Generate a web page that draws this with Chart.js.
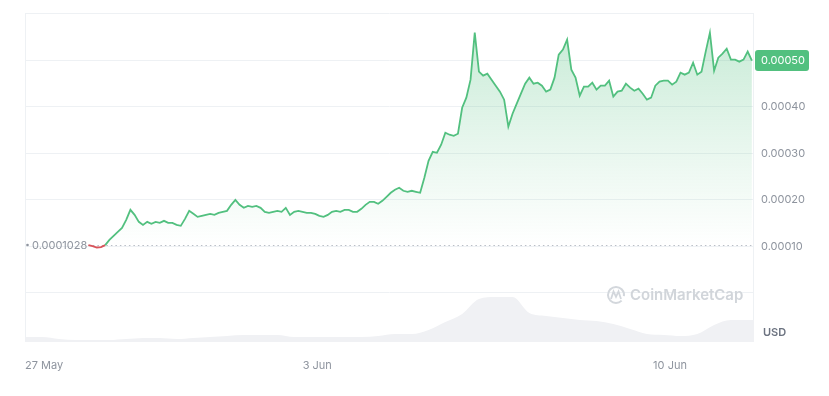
<!DOCTYPE html>
<html>
<head>
<meta charset="utf-8">
<script src="https://cdn.jsdelivr.net/npm/chart.js@4.4.0/dist/chart.umd.min.js"></script>
<style>
  html, body { margin: 0; padding: 0; background: #fff; }
  #wrap { width: 829px; height: 396px; position: relative; }
</style>
</head>
<body>
<div id="wrap"><canvas id="canvasChart"></canvas></div>
<script>
// hours are counted from 27 May 00:00
const priceStartHour = 59
const priceStepHours = 2
const basePrice = 0.0001028
// price samples, in units of 0.0001 USD
const priceE4 = [
  1.028, 1.004, 0.976, 0.985, 1.028,
  1.140, 1.226, 1.312, 1.398, 1.570,
  1.785, 1.677, 1.527, 1.462, 1.527,
  1.484, 1.527, 1.505, 1.548, 1.505,
  1.505, 1.462, 1.441, 1.591, 1.763,
  1.699, 1.634, 1.656, 1.677, 1.699,
  1.677, 1.720, 1.742, 1.763, 1.892,
  2.000, 1.892, 1.828, 1.871, 1.849,
  1.871, 1.828, 1.742, 1.720, 1.742,
  1.763, 1.742, 1.828, 1.677, 1.742,
  1.763, 1.742, 1.720, 1.720, 1.699,
  1.656, 1.634, 1.677, 1.742, 1.763,
  1.742, 1.785, 1.785, 1.742, 1.742,
  1.806, 1.892, 1.957, 1.957, 1.914,
  1.978, 2.065, 2.151, 2.215, 2.258,
  2.194, 2.172, 2.194, 2.172, 2.151,
  2.473, 2.839, 3.032, 3.011, 3.183,
  3.441, 3.398, 3.376, 3.419, 3.978,
  4.194, 4.581, 5.591, 4.753, 4.667,
  4.710, 4.581, 4.452, 4.323, 4.151,
  3.570, 3.849, 4.065, 4.280, 4.495,
  4.624, 4.495, 4.516, 4.452, 4.323,
  4.366, 4.624, 5.118, 5.226, 5.441,
  4.796, 4.624, 4.237, 4.430, 4.430,
  4.516, 4.366, 4.452, 4.452, 4.559,
  4.215, 4.323, 4.344, 4.495, 4.409,
  4.344, 4.387, 4.280, 4.151, 4.194,
  4.452, 4.538, 4.559, 4.559, 4.473,
  4.538, 4.731, 4.688, 4.731, 4.946,
  4.688, 4.753, 5.183, 5.591, 4.774,
  5.054, 5.140, 5.247, 5.011, 5.011,
  4.968, 5.011, 5.183, 4.990
]

// trading volume (relative units), every 8 hours
const volumeStartHour = 29
const volumeStepHours = 8
const volume = [5, 5, 3, 2, 2, 2, 3, 4, 4, 3,
  4, 5, 6, 7, 7, 7, 5, 5, 5, 5,
  5, 6, 8, 8, 12, 20, 28, 43, 45, 45,
  29, 26, 24, 22, 21, 18, 13, 8, 7, 6,
  8, 17, 22, 22, 22]

const xMinHour = 28.8
const xMaxHour = 376
const xTickHours = [28.8, 168, 336, 376]
const xTickLabels = ['27 May', '3 Jun', '10 Jun', '']
const priceTicks = [0, 0.0001, 0.0002, 0.0003, 0.0004, 0.0005, 0.0006]

const green = '#52c07f'
const red = '#d9545a'
const gridColor = '#eef1f4'
const labelColor = '#8e949e'

Chart.defaults.font.family = 'Inter, sans-serif'
Chart.defaults.font.size = 11

const pricePoints = priceE4.map((p, i) => ({x: priceStartHour + i * priceStepHours, y: p / 10000}))
const volumePoints = volume.map((v, i) => ({x: volumeStartHour + i * volumeStepHours, y: v}))

function fillGradient(context) {
  const chart = context.chart
  const {ctx, chartArea, scales} = chart
  if (!chartArea) return 'rgba(82,192,127,0.15)'
  const yb = scales.y.getPixelForValue(basePrice)
  const g = ctx.createLinearGradient(0, chartArea.top, 0, yb)
  g.addColorStop(0, 'rgba(82,192,127,0.34)')
  g.addColorStop(0.55, 'rgba(82,192,127,0.14)')
  g.addColorStop(1, 'rgba(82,192,127,0.0)')
  return g
}

const decor = {
  id: 'decor',
  beforeDatasetsDraw(chart) {
    const {ctx, chartArea: a, scales} = chart
    const yb = Math.round(scales.y.getPixelForValue(basePrice)) + 0.5
    const x0 = scales.x.getPixelForValue(priceStartHour)
    ctx.save()
    // frame sides
    ctx.strokeStyle = gridColor
    ctx.lineWidth = 1
    ctx.beginPath()
    ctx.moveTo(a.left + 0.5, a.top)
    ctx.lineTo(a.left + 0.5, a.bottom)
    ctx.moveTo(a.right - 0.5, a.top)
    ctx.lineTo(a.right - 0.5, a.bottom)
    ctx.stroke()
    // dotted start price line
    ctx.setLineDash([1.5, 3])
    ctx.strokeStyle = '#b9bec6'
    ctx.beginPath()
    ctx.moveTo(x0, yb)
    ctx.lineTo(a.right, yb)
    ctx.stroke()
    ctx.setLineDash([])
    // watermark
    const y0 = scales.y.getPixelForValue(0)
    const lx = a.right - 138, ly = y0 + 2
    ctx.strokeStyle = '#d3d7dc'
    ctx.lineWidth = 2
    ctx.beginPath()
    ctx.arc(lx, ly, 8, 0.25 * Math.PI, 2.05 * Math.PI)
    ctx.stroke()
    ctx.lineWidth = 1.8
    ctx.beginPath()
    ctx.moveTo(lx - 5, ly + 4)
    ctx.lineTo(lx - 2.5, ly - 3.5)
    ctx.lineTo(lx, ly + 2)
    ctx.lineTo(lx + 2.5, ly - 3.5)
    ctx.lineTo(lx + 5, ly + 4)
    ctx.stroke()
    ctx.fillStyle = '#d1d5da'
    ctx.font = '600 15px Inter, sans-serif'
    ctx.textBaseline = 'middle'
    ctx.textAlign = 'left'
    ctx.fillText('CoinMarketCap', lx + 14, ly + 1)
    ctx.restore()
  },
  afterDraw(chart) {
    const {ctx, chartArea: a, scales} = chart
    const yb = scales.y.getPixelForValue(basePrice)
    ctx.save()
    // start price label
    ctx.fillStyle = labelColor
    ctx.beginPath()
    ctx.arc(a.left + 2.5, yb, 1.3, 0, Math.PI * 2)
    ctx.fill()
    ctx.font = '11px Inter, sans-serif'
    ctx.textBaseline = 'middle'
    ctx.textAlign = 'left'
    ctx.fillText(basePrice.toFixed(7), a.left + 7, yb + 0.5)
    // last price badge
    const last = priceE4[priceE4.length - 1] / 10000
    const yl = scales.y.getPixelForValue(last)
    const bx = a.right + 1, bw = 54, bh = 21
    ctx.fillStyle = green
    ctx.beginPath()
    ctx.roundRect(bx, yl - bh / 2, bw, bh, 3)
    ctx.fill()
    ctx.fillStyle = '#ffffff'
    ctx.fillText(last.toFixed(5), bx + 6, yl + 0.5)
    // currency
    ctx.fillStyle = '#6c7380'
    ctx.font = '600 11px Inter, sans-serif'
    ctx.fillText('USD', a.right + 9, a.bottom - 9)
    ctx.restore()
  }
}

const config = {
  type: 'line',
  data: {
    datasets: [{
      label: 'Volume',
      data: volumePoints,
      yAxisID: 'yv',
      borderWidth: 0,
      pointRadius: 0,
      fill: 'start',
      backgroundColor: '#f0f1f4',
      cubicInterpolationMode: 'monotone'
    }, {
      label: 'Price',
      data: pricePoints,
      yAxisID: 'y',
      borderWidth: 1.8,
      pointRadius: 0,
      tension: 0,
      fill: {target: {value: basePrice}},
      backgroundColor: fillGradient,
      segment: {
        borderColor: ctx => (ctx.p0.parsed.y < basePrice || ctx.p1.parsed.y < basePrice) ? red : green
      },
      borderColor: green
    }]
  },
  options: {
    responsive: true,
    maintainAspectRatio: false,
    animation: false,
    layout: {padding: {left: 25, top: 13, right: 0, bottom: 0}},
    plugins: {
      legend: {display: false},
      tooltip: {enabled: false}
    },
    scales: {
      x: {
        type: 'linear',
        min: xMinHour,
        max: xMaxHour,
        afterBuildTicks: scale => { scale.ticks = xTickHours.map(v => ({value: v})) },
        afterFit: scale => { scale.height = 54 },
        grid: {display: false},
        border: {display: false},
        ticks: {
          autoSkip: false,
          maxRotation: 0,
          align: 'inner',
          padding: 9,
          color: labelColor,
          callback: (v, i) => xTickLabels[i]
        }
      },
      y: {
        position: 'right',
        min: -0.0001054,
        max: 0.0006,
        afterBuildTicks: scale => { scale.ticks = priceTicks.map(v => ({value: v})) },
        afterFit: scale => { scale.width = 75 },
        grid: {color: gridColor, drawTicks: false},
        border: {display: false},
        ticks: {
          padding: 7,
          color: labelColor,
          callback: v => (v <= 0 || v >= 0.00059) ? '' : v.toFixed(5)
        }
      },
      yv: {
        display: false,
        min: 0,
        max: 329
      }
    }
  },
  plugins: [decor]
}

const canvasChart = new Chart(document.getElementById('canvasChart').getContext('2d'), config)
</script>
</body>
</html>
